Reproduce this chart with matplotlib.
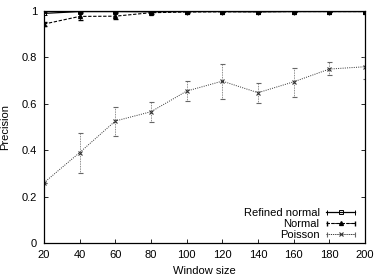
import matplotlib
matplotlib.use('Agg')
import matplotlib.pyplot as plt
from matplotlib.legend_handler import HandlerErrorbar
from matplotlib.container import ErrorbarContainer
import numpy as np

plt.rcParams['font.family'] = ['Liberation Sans', 'DejaVu Sans']
plt.rcParams['font.size'] = 8

window = [20, 40, 60, 80, 100, 120, 140, 160, 180, 200]

refined = [0.99, 0.998, 0.998, 0.997, 0.998, 0.998, 0.997, 0.998, 0.998, 0.998]
refined_err = [0.006, 0.002, 0.002, 0.003, 0.002, 0.002, 0.002, 0.002, 0.002, 0.002]

normal = [0.944, 0.977, 0.978, 0.993, 0.996, 0.997, 0.997, 0.998, 0.998, 0.998]
normal_err = [0.01, 0.015, 0.012, 0.005, 0.003, 0.002, 0.002, 0.002, 0.002, 0.002]

poisson = [0.26, 0.39, 0.526, 0.566, 0.655, 0.698, 0.648, 0.695, 0.75, 0.76]
poisson_lo = [0.26, 0.30, 0.46, 0.523, 0.613, 0.622, 0.605, 0.631, 0.724, 0.705]
poisson_hi = [0.26, 0.475, 0.587, 0.609, 0.698, 0.772, 0.688, 0.756, 0.779, 0.802]

labels = ['Refined normal', 'Normal', 'Poisson']

fig = plt.figure(figsize=(3.74, 2.77), dpi=100)
ax = fig.add_axes([0.1176, 0.1227, 0.8584, 0.8373])

styles = [
    dict(color='black', lw=0.9, ls='-', marker='s', mfc='none', ms=2.8, mew=0.7,
         capsize=1.8, elinewidth=0.6),
    dict(color='black', lw=0.8, ls=(0, (3, 1.5)), marker='^', ms=2.8,
         capsize=1.8, elinewidth=0.6),
    dict(color='#333333', lw=0.7, ls=(0, (1, 1.3)), marker='x', ms=3, mew=0.8,
         capsize=1.8, elinewidth=0.6, ecolor='#666666'),
]
err_ls = ['-', (0, (3, 1.5)), (0, (1, 1))]

p_err = [np.array(poisson) - np.array(poisson_lo), np.array(poisson_hi) - np.array(poisson)]
series = [(refined, refined_err), (normal, normal_err), (poisson, p_err)]

for (vals, err), st, els in zip(series, styles, err_ls):
    eb = ax.errorbar(window, vals, yerr=err, **st)
    eb[2][0].set_linestyle(els)

# legend proxies (off-axis) drawn gnuplot style: |---o---|
proxies = []
for st, els in zip(styles, err_ls):
    p = ax.errorbar([-100], [0.5], xerr=[1], **st)
    p[2][0].set_linestyle(st['ls'])
    proxies.append(p)

ax.set_xlim(20, 200)
ax.set_ylim(0, 1)
ax.set_xticks(window)
ax.set_yticks([0, 0.2, 0.4, 0.6, 0.8, 1])
ax.set_yticklabels(['0', '0.2', '0.4', '0.6', '0.8', '1'])
ax.tick_params(direction='in', top=True, right=True, length=3, width=0.6, pad=5)
for s in ax.spines.values():
    s.set_linewidth(0.9)
ax.set_xlabel('Window size', labelpad=4)
ax.set_ylabel('Precision', labelpad=8)

ax.legend(proxies, labels, loc='lower right',
          frameon=False, markerfirst=False, handlelength=2.6, handletextpad=0.6,
          labelspacing=0.1, borderaxespad=0.2, bbox_to_anchor=(0.99, -0.015),
          handler_map={ErrorbarContainer: HandlerErrorbar(xerr_size=1.25)})

fig.savefig('out.png', dpi=100)
